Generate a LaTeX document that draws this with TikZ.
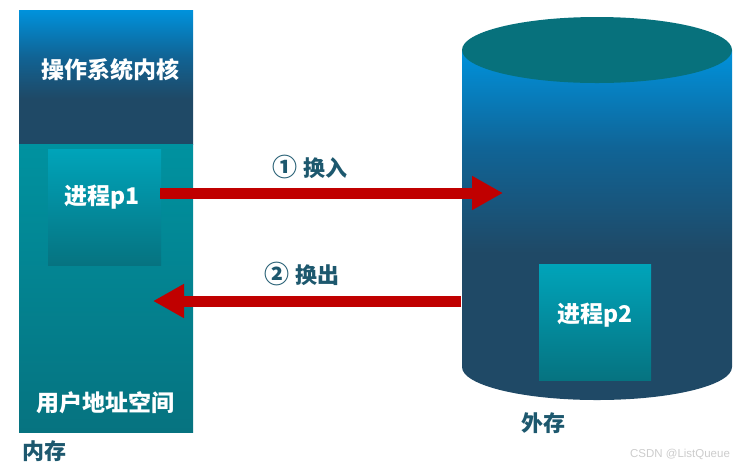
\documentclass[tikz,border=0pt]{standalone}
\usepackage{fontspec}
\setmainfont{Noto Sans CJK SC}
\newfontfamily\wmfont{Liberation Sans}
\usetikzlibrary{arrows.meta,positioning}

\definecolor{kerneltop}{RGB}{0,146,220}
\definecolor{kernelbot}{RGB}{31,73,102}
\definecolor{diskmid}{RGB}{16,100,150}
\definecolor{usertop}{RGB}{0,146,160}
\definecolor{userbot}{RGB}{6,115,128}
\definecolor{proctop}{RGB}{0,164,186}
\definecolor{diskcap}{RGB}{7,113,124}
\definecolor{arrowred}{RGB}{192,0,0}
\definecolor{darkteal}{RGB}{29,88,110}

\pgfdeclareverticalshading{diskshade}{100bp}{color(0bp)=(kernelbot); color(46bp)=(kernelbot);
  color(61bp)=(diskmid); color(75bp)=(kerneltop); color(100bp)=(kerneltop)}
\pgfdeclareverticalshading{kernelshade}{100bp}{color(0bp)=(kernelbot); color(42bp)=(kernelbot);
  color(58bp)=(diskmid); color(75bp)=(kerneltop); color(100bp)=(kerneltop)}

\tikzset{
  region/.style={inner sep=0pt,outer sep=0pt},
  kernelbox/.style={region,shading=kernelshade},
  userbox/.style={region,top color=usertop,bottom color=userbot},
  procbox/.style={region,top color=proctop,middle color=userbot,bottom color=userbot,
    minimum width=113pt,minimum height=116pt},
  whitelbl/.style={text=white,font=\bfseries\fontsize{23}{27}\selectfont},
  darklbl/.style={text=darkteal,font=\bfseries\fontsize{22}{26}\selectfont},
  swap/.style={draw=arrowred,line width=11pt,-{Triangle[length=31pt,width=32pt]}}
}
\newcommand{\stepno}[1]{{\fontsize{25}{27}\selectfont#1}}

\begin{document}
\begin{tikzpicture}[x=1pt,y=-1pt]
\useasboundingbox (0,0) rectangle (746,467);

% memory
\node[kernelbox,minimum width=174pt,minimum height=134pt] (kernel) at (106,77) {};
\node[userbox,minimum width=174pt,minimum height=288pt] (user) at (106,288) {};
\node[procbox] (p1) at (104.5,207) {};
\node[whitelbl] (kernellbl) at (110,70) {操作系统内核};
\node[whitelbl] (p1lbl) at (102,197) {进程p1};
\node[whitelbl] (userlbl) at (105,403) {用户地址空间};
\node[darklbl] (mem) at (44,451) {内存};

% disk
\shade[shading=diskshade]
  (462,50) -- (462,367) arc[start angle=180,end angle=360,x radius=135pt,y radius=33pt]
  -- (732,50) -- cycle;
\fill[diskcap] (597,50) ellipse[x radius=135pt,y radius=33pt];
\coordinate (disk) at (597,210);
\node[procbox,minimum width=112pt] (p2) at (595,322) {};
\node[whitelbl] (p2lbl) at (595,315) {进程p2};
\node[darklbl] (ext) at (543,423) {外存};

% swapping
\coordinate (inA) at (160,193);
\coordinate (inB) at (503,193);
\coordinate (outA) at (461,301);
\coordinate (outB) at (153,301);
\draw[swap] (inA) -- (inB);
\draw[swap] (outA) -- (outB);
\node[darklbl] (swapin) at (310,167) {\stepno{①} 换入};
\node[darklbl] (swapout) at (302,274) {\stepno{②} 换出};

\node[text=black!20,font=\wmfont\fontsize{11.5}{13}\selectfont] (wm) at (680,454) {CSDN @ListQueue};
\end{tikzpicture}
\end{document}
